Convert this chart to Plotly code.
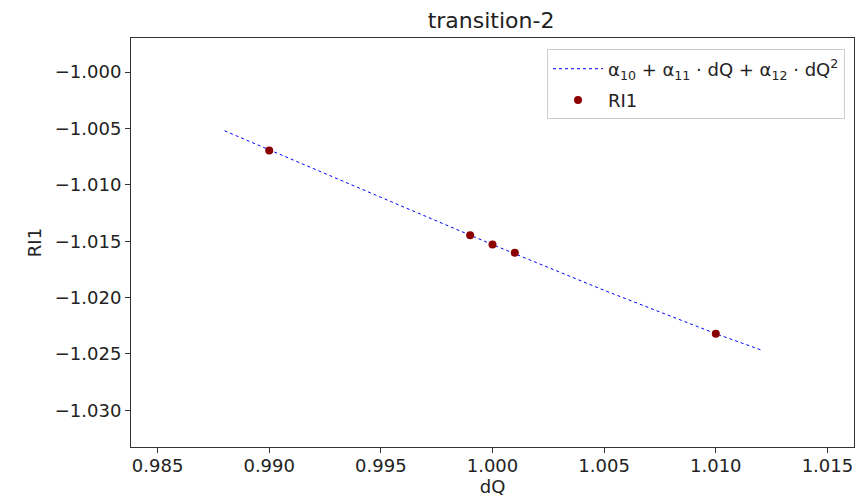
import plotly.graph_objects as go

# Measured points
dq = [0.990, 0.999, 1.000, 1.001, 1.010]
ri1 = [-1.00694, -1.01446, -1.01528, -1.01602, -1.02320]

# Quadratic fit curve sampled across the dQ window
fit_dq = [0.988, 0.990, 0.995, 1.000, 1.005, 1.010, 1.012]
fit_ri1 = [-1.00520, -1.00690, -1.01110, -1.01530, -1.01935, -1.02320, -1.02462]

x_ticks = [0.985, 0.990, 0.995, 1.000, 1.005, 1.010, 1.015]
y_ticks = [-1.000, -1.005, -1.010, -1.015, -1.020, -1.025, -1.030]

FONT = "DejaVu Sans"
INK = "#222222"

fig = go.Figure()
fig.add_trace(go.Scatter(
    x=fit_dq, y=fit_ri1, mode="lines",
    line=dict(color="blue", width=1, dash="dot"),
    name="α<sub>10</sub> + α<sub>11</sub> · dQ + α<sub>12</sub> · dQ<sup>2</sup>",
    legendgroup="fit",
))
fig.add_trace(go.Scatter(
    x=dq, y=ri1, mode="markers",
    marker=dict(color="#8b0000", size=8),
    name="RI1",
    legendgroup="data",
))

axis_common = dict(
    showgrid=False, zeroline=False,
    showline=True, linecolor="#333333", linewidth=1, mirror=True,
    ticks="outside", ticklen=5, tickcolor="#333333",
    tickfont=dict(family=FONT, size=18, color=INK),
    tickformat=".3f",
)

fig.update_layout(
    width=856, height=502,
    margin=dict(l=131, r=2, t=37.5, b=55.3),
    paper_bgcolor="white", plot_bgcolor="white",
    font=dict(family=FONT, color=INK),
    title=dict(text="transition-2", x=491 / 856, xanchor="center",
               y=1 - 20 / 502, yanchor="middle",
               font=dict(family=FONT, size=22, color=INK)),
    xaxis=dict(axis_common, range=[0.98381, 1.01619], tickvals=x_ticks,
               ticklabelstandoff=-3,
               title=dict(text="dQ", font=dict(family=FONT, size=18, color=INK), standoff=2)),
    yaxis=dict(axis_common, range=[-1.03325, -0.99697], tickvals=y_ticks,
               title=dict(text="RI1", font=dict(family=FONT, size=18, color=INK), standoff=8)),
    legend=dict(x=(845 - 131) / 723, xanchor="right", y=1 - (49 - 37.5) / 409.2, yanchor="top",
                bgcolor="rgba(255,255,255,0.8)", bordercolor="#cccccc", borderwidth=1,
                font=dict(family=FONT, size=18, color=INK),
                itemwidth=50, tracegroupgap=5),
    showlegend=True,
)

fig.write_html("out.html")
